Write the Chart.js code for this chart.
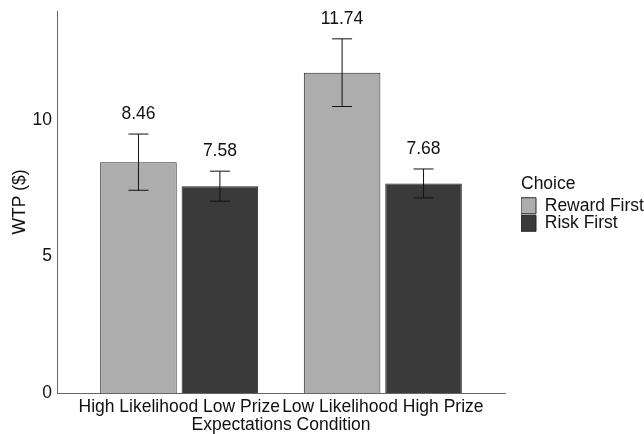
<!DOCTYPE html>
<html>
<head>
<meta charset="utf-8">
<script src="https://cdn.jsdelivr.net/npm/chart.js@4.4.1/dist/chart.umd.min.js"></script>
<style>
  html, body { margin: 0; padding: 0; background: #fff; }
  #wrap { width: 644px; height: 434px; }
</style>
</head>
<body>
<div id="wrap"><canvas id="myChart" width="644" height="434"></canvas></div>
<script>
const categories = ["High Likelihood Low Prize", "Low Likelihood High Prize"];
const rewardFirst = [8.46, 11.74];
const riskFirst = [7.58, 7.68];
const rewardErr = [1.03, 1.24];
const riskErr = [0.55, 0.53];
const yTicks = [0, 5, 10];

const FONT = "'Liberation Sans', Arial, Helvetica, sans-serif";
const FS = 17.5;

// error bars + value labels drawn from the scales
const errorBars = {
  id: 'errorBars',
  afterDatasetsDraw(chart) {
    const ctx = chart.ctx;
    const y = chart.scales.y;
    chart.data.datasets.forEach((ds, i) => {
      const meta = chart.getDatasetMeta(i);
      meta.data.forEach((bar, j) => {
        const v = ds.data[j].y;
        const e = ds.errors[j];
        const top = y.getPixelForValue(v + e);
        const bot = y.getPixelForValue(v - e);
        ctx.save();
        ctx.strokeStyle = '#111';
        ctx.lineWidth = 1;
        ctx.beginPath();
        ctx.moveTo(bar.x, top); ctx.lineTo(bar.x, bot);
        ctx.moveTo(bar.x - 10, top); ctx.lineTo(bar.x + 10, top);
        ctx.moveTo(bar.x - 10, bot); ctx.lineTo(bar.x + 10, bot);
        ctx.stroke();
        ctx.fillStyle = '#111';
        ctx.font = FS + 'px ' + FONT;
        ctx.textAlign = 'center';
        ctx.textBaseline = 'middle';
        ctx.fillText(v.toFixed(2), bar.x, top - 20);
        ctx.restore();
      });
    });
  }
};

const ctx = document.getElementById('myChart').getContext('2d');
const chart = new Chart(ctx, {
  type: 'bar',
  data: {
    datasets: [
      {
        label: 'Reward First',
        data: rewardFirst.map((v, i) => ({ x: i + 1, y: v })),
        errors: rewardErr,
        backgroundColor: '#adadad',
        borderColor: '#2a2a2a',
        borderWidth: 1
      },
      {
        label: 'Risk First',
        data: riskFirst.map((v, i) => ({ x: i + 1, y: v })),
        errors: riskErr,
        backgroundColor: '#3a3a3a',
        borderColor: '#222',
        borderWidth: 1
      }
    ]
  },
  options: {
    responsive: false,
    animation: false,
    categoryPercentage: 0.8,
    barPercentage: 0.94,
    layout: { padding: { top: 11, right: 0, left: 0, bottom: 0 } },
    scales: {
      x: {
        type: 'linear',
        min: 0.4,
        max: 2.6,
        offset: false,
        grid: { display: false, drawTicks: false },
        border: { color: '#666', width: 1 },
        afterBuildTicks: (s) => { s.ticks = categories.map((c, i) => ({ value: i + 1 })); },
        afterFit: (s) => { s.height = 41; s.paddingLeft = 0; s.paddingRight = 0; },
        ticks: {
          color: '#111',
          font: { family: FONT, size: FS },
          padding: 4,
          maxRotation: 0,
          autoSkip: false,
          callback: (v) => categories[Math.round(v) - 1]
        },
        title: {
          display: true,
          text: 'Expectations Condition',
          color: '#111',
          font: { family: FONT, size: FS, lineHeight: 1.0 },
          padding: 0
        }
      },
      y: {
        min: 0,
        max: 14,
        grid: { display: false, drawTicks: false },
        border: { color: '#666', width: 1 },
        afterBuildTicks: (s) => { s.ticks = yTicks.map(v => ({ value: v })); },
        afterFit: (s) => { s.width = 57; s.paddingTop = 0; s.paddingBottom = 0; },
        ticks: {
          color: '#111',
          font: { family: FONT, size: FS },
          padding: 5
        },
        title: {
          display: true,
          text: 'WTP ($)',
          color: '#111',
          font: { family: FONT, size: FS },
          padding: { top: 10, bottom: 0 }
        }
      },
      // empty right-hand box: only keeps a gap between plot and legend
      gap: {
        type: 'linear',
        position: 'right',
        display: true,
        grid: { display: false, drawTicks: false },
        border: { display: false },
        ticks: { display: false },
        afterFit: (s) => { s.width = 16; s.paddingTop = 0; s.paddingBottom = 0; }
      }
    },
    plugins: {
      tooltip: { enabled: false },
      legend: {
        position: 'right',
        align: 'start',
        maxWidth: 123,
        title: {
          display: true,
          text: 'Choice',
          color: '#111',
          position: 'start',
          font: { family: FONT, size: FS },
          padding: { top: 164, bottom: 1 }
        },
        labels: {
          color: '#111',
          font: { family: FONT, size: FS },
          boxWidth: 15,
          boxHeight: 16,
          padding: 0
        }
      }
    }
  },
  plugins: [errorBars]
});
</script>
</body>
</html>
